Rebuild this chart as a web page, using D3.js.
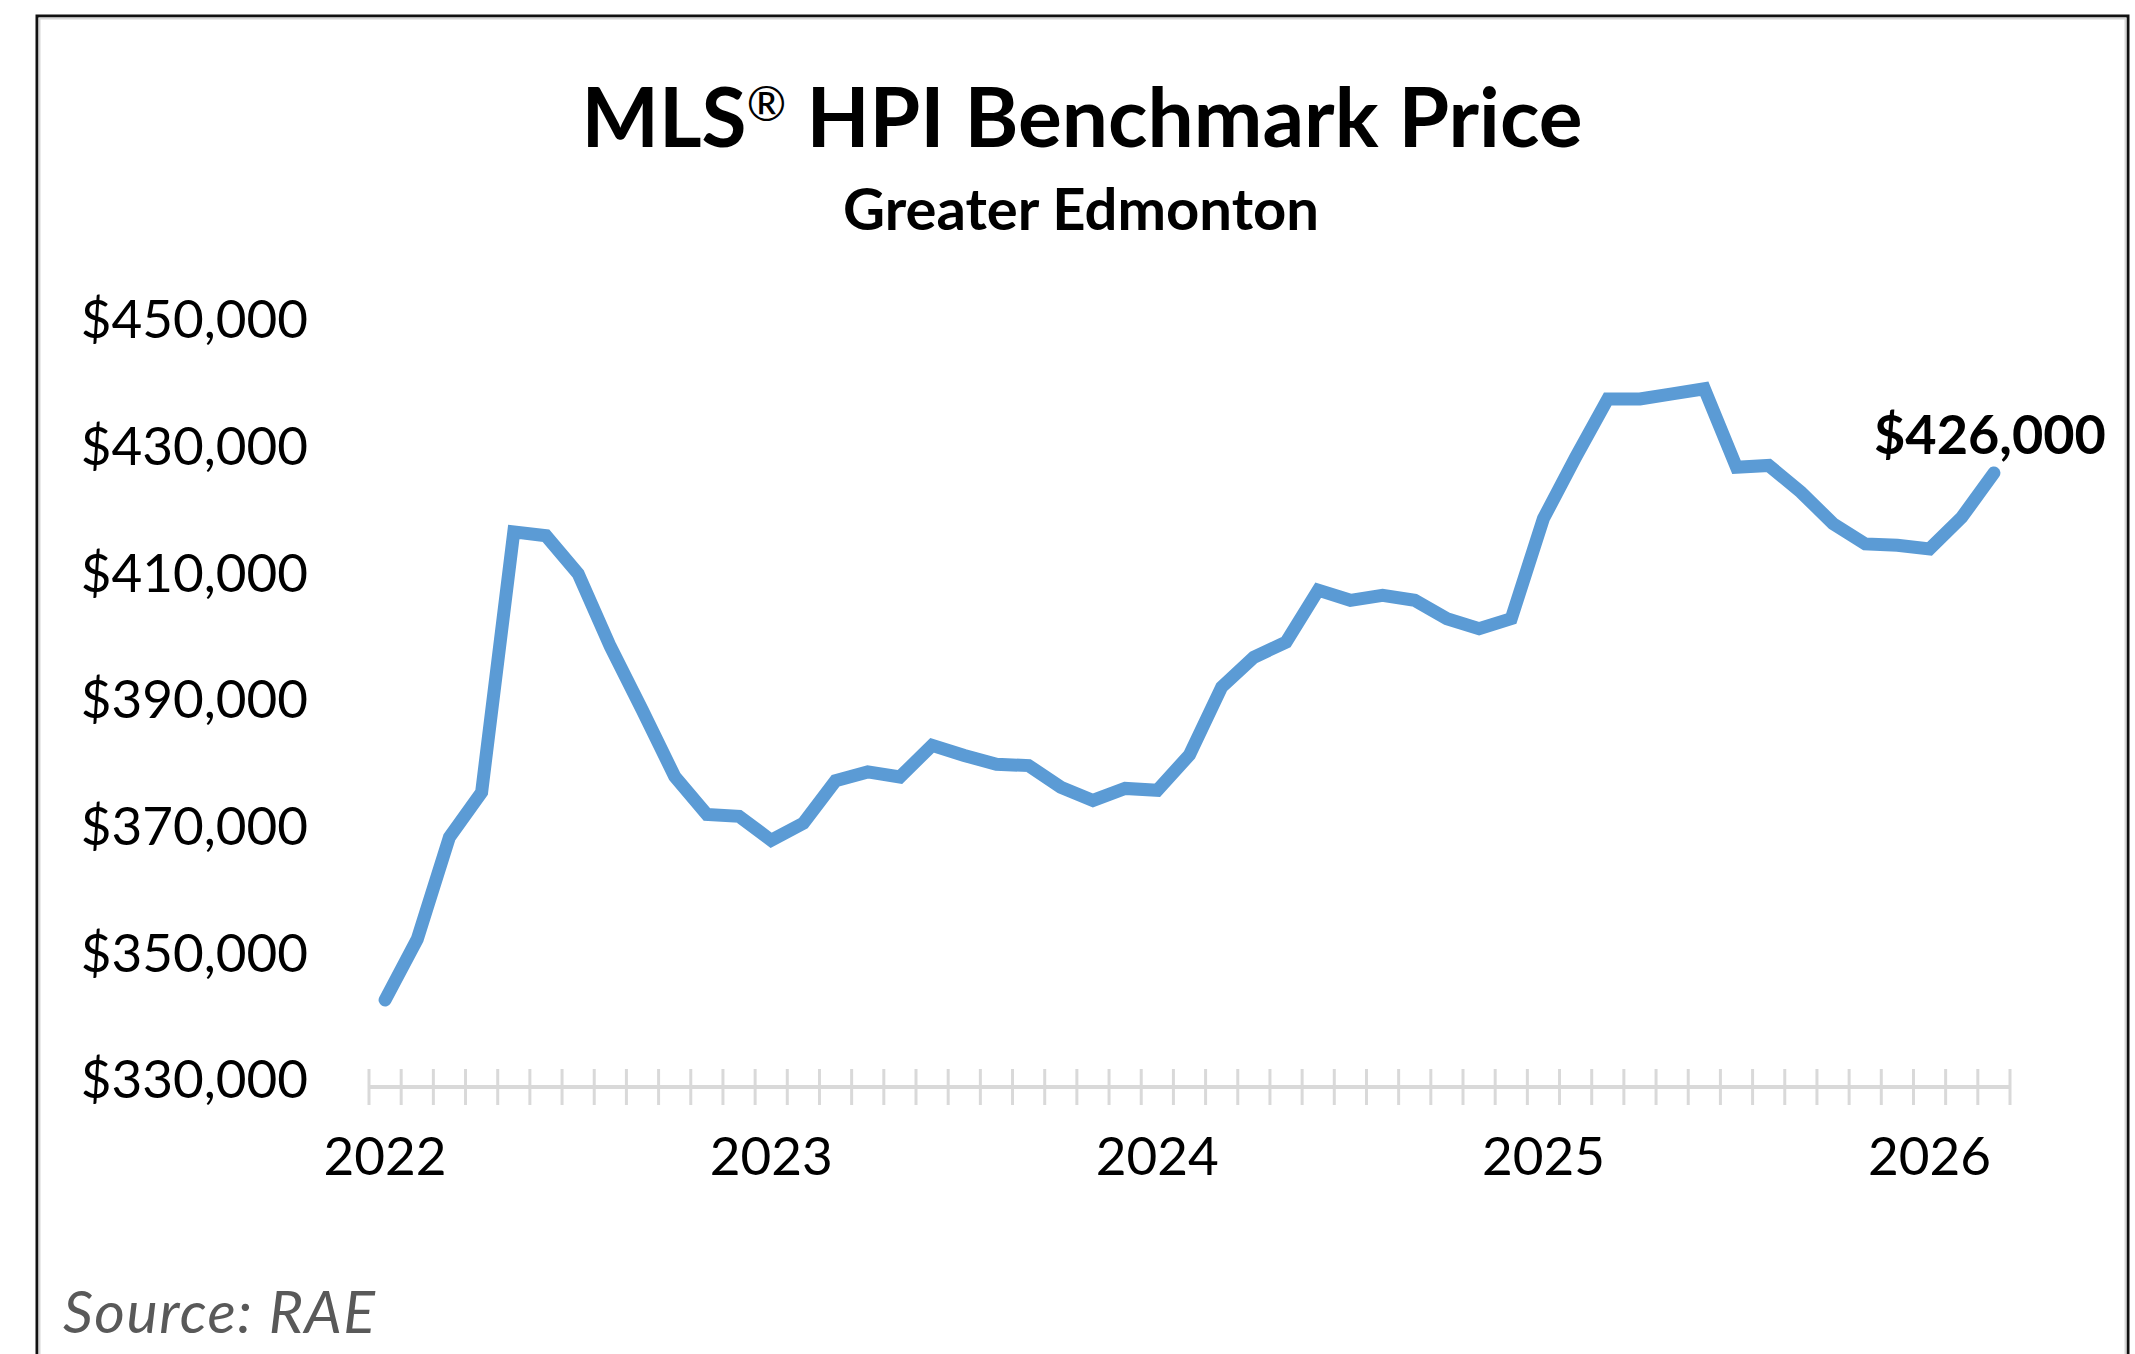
<!DOCTYPE html>
<html>
<head>
<meta charset="utf-8">
<script src="https://cdn.jsdelivr.net/npm/d3@7"></script>
<style>
    body { margin: 0; background: #fff; }
    svg { display: block; font-family: Lato, "Open Sans", sans-serif; }
    .axis text { font-family: Lato, "Open Sans", sans-serif; font-size: 53px; fill: #000; }
</style>
</head>
<body>
<div id="chart"></div>
<script>

// Months shown on the axis (Jan 2022 - Mar 2026).
const years  = [2022, 2023, 2024, 2025, 2026];
const months = [];
years.forEach(function(yr) {
    for (let m = 1; m <= 12; m++) {
        if (yr === 2026 && m > 3) break;
        months.push(yr + '-' + (m < 10 ? '0' + m : m));
    }
});

// MLS HPI benchmark price, Greater Edmonton.
const prices = [
    342800, 352400, 368500, 375600, 416700, 416100, 410100, 398600, 388500, 378100, 372100, 371800,
    368000, 370700, 377400, 378800, 378000, 383000, 381400, 380000, 379800, 376400, 374300, 376200,
    375900, 381500, 392200, 396900, 399300, 407500, 405900, 406700, 405900, 403000, 401400, 403000,
    418800, 428500, 437700, 437700, 438500, 439300, 426900, 427200, 423000, 418000, 414800, 414600,
    414000, 419000, 426000
];

const yTicks = [330000, 350000, 370000, 390000, 410000, 430000, 450000];

const title    = 'MLS';
const subtitle = 'Greater Edmonton';
const source   = 'Source: RAE';

const width  = 2135;
const height = 1354;
const margin = {top: 321, right: 125, bottom: 273, left: 369};

const data = months.map((m, i) => ({month: m, price: prices[i]}));

const svg = d3.select('#chart')
    .append('svg')
        .attr('width', width)
        .attr('height', height);

// Frame
svg.append('rect')
    .attr('x', 37).attr('y', 16)
    .attr('width', width - 37 - 7).attr('height', height)
    .attr('fill', 'none')
    .attr('stroke', '#111')
    .attr('stroke-width', 3);
svg.append('rect')
    .attr('x', 39.5).attr('y', 18.5)
    .attr('width', width - 42 - 7).attr('height', height)
    .attr('fill', 'none')
    .attr('stroke', '#d6d6d6')
    .attr('stroke-width', 2);

// Titles
let t = svg.append('text')
    .attr('x', 1082).attr('y', 147)
    .attr('text-anchor', 'middle')
    .attr('font-size', 82)
    .attr('font-weight', 700)
    .text(title);
t.append('tspan')
    .attr('font-size', 48)
    .attr('font-weight', 400)
    .attr('dy', -26)
    .text('®');
t.append('tspan')
    .attr('dy', 26)
    .text(' HPI Benchmark Price');

svg.append('text')
    .attr('x', 1081).attr('y', 230)
    .attr('text-anchor', 'middle')
    .attr('font-size', 58)
    .attr('font-weight', 700)
    .text(subtitle);

// Set the ranges
const x = d3.scaleBand()
    .domain(months)
    .range([margin.left, width - margin.right])
    .padding(0);
const y = d3.scaleLinear()
    .domain([330000, 450000])
    .range([1081, margin.top]);

const xMid = d => x(d) + x.bandwidth() / 2;

// Y axis labels, no line
const yAxis = d3.axisLeft(y)
    .tickValues(yTicks)
    .tickSize(0)
    .tickPadding(0)
    .tickFormat(d => '$' + d3.format(',')(d));
const gy = svg.append('g')
    .attr('class', 'y axis')
    .attr('transform', 'translate(308,0)')
    .call(yAxis)
    .attr('font-family', null)
    .attr('font-size', null);
gy.select('.domain').remove();

// X axis: gray baseline with a tick between each month
const axisY = y(330000) + 6;
const gx = svg.append('g')
    .attr('class', 'x axis')
    .attr('transform', 'translate(0,' + axisY + ')');

gx.append('line')
    .attr('x1', x.range()[0]).attr('x2', x.range()[1])
    .attr('stroke', '#d9d9d9')
    .attr('stroke-width', 4);

const edges = months.map(m => x(m)).concat([x.range()[1]]);
gx.selectAll('line.tick')
    .data(edges)
    .enter().append('line')
        .attr('class', 'tick')
        .attr('x1', d => d).attr('x2', d => d)
        .attr('y1', -18).attr('y2', 18)
        .attr('stroke', '#d9d9d9')
        .attr('stroke-width', 3);

gx.selectAll('text')
    .data(months.filter(m => m.endsWith('-01')))
    .enter().append('text')
        .attr('x', xMid)
        .attr('y', 88)
        .attr('text-anchor', 'middle')
        .text(d => d.slice(0, 4));

// Define the line
const valueline = d3.line()
    .x(d => xMid(d.month))
    .y(d => y(d.price));

svg.append('path')
    .datum(data)
    .attr('d', valueline)
    .attr('fill', 'none')
    .attr('stroke', '#5b9bd5')
    .attr('stroke-width', 13)
    .attr('stroke-linecap', 'round')
    .attr('stroke-linejoin', 'miter');

// Last value label
const last = data[data.length - 1];
svg.append('text')
    .attr('x', xMid(last.month) + 112)
    .attr('y', y(last.price) - 19)
    .attr('text-anchor', 'end')
    .attr('font-size', 54)
    .attr('font-weight', 700)
    .text('$' + d3.format(',')(last.price));

// Source
svg.append('text')
    .attr('x', 63).attr('y', 1333)
    .attr('font-size', 59)
    .attr('font-style', 'italic')
    .attr('letter-spacing', 1.5)
    .attr('fill', '#595959')
    .text(source);

</script>
</body>
</html>
